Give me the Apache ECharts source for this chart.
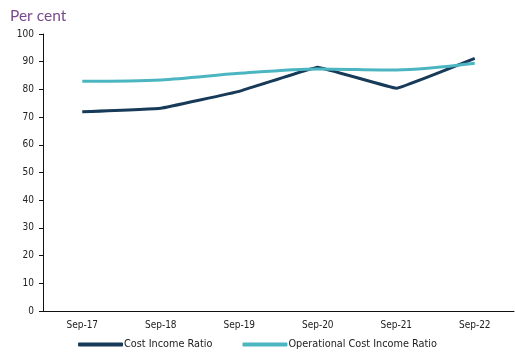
<!DOCTYPE html>
<html>
<head>
<meta charset="utf-8">
<script src="https://cdn.jsdelivr.net/npm/echarts@6/dist/echarts.min.js"></script>
<style>
  html, body { margin: 0; padding: 0; background: #ffffff; }
  #chart { width: 515px; height: 358px; }
</style>
</head>
<body>
<div id="chart"></div>
<script>
// Cost income ratios, per cent, September year-ends
var categories = ['Sep-17', 'Sep-18', 'Sep-19', 'Sep-20', 'Sep-21', 'Sep-22'];
var costIncomeRatio = [71.9, 73.2, 79.3, 88.0, 80.4, 91.2];
var operationalCostIncomeRatio = [82.9, 83.4, 85.8, 87.4, 87.0, 89.4];
var yTicks = [0, 10, 20, 30, 40, 50, 60, 70, 80, 90, 100];

var chart = echarts.init(document.getElementById('chart'), null, { renderer: 'canvas' });

var labelFont = { fontFamily: 'DejaVu Sans Condensed, DejaVu Sans, sans-serif', fontSize: 10, color: '#222' };

chart.setOption({
  animation: false,
  backgroundColor: '#ffffff',
  title: {
    text: 'Per cent',
    left: 5, top: 3,
    textStyle: { fontFamily: 'Lato, sans-serif', fontSize: 15.5, fontWeight: 'normal', color: '#7a4a8e' }
  },
  grid: { left: 43, right: 1, top: 34, bottom: 47, containLabel: false },
  legend: {
    bottom: 3,
    left: 'center',
    itemWidth: 45, itemHeight: 4,
    itemGap: 30,
    icon: 'roundRect',
    textStyle: Object.assign({}, labelFont, { fontSize: 10.8, padding: [0, 0, 0, -4] }),
    data: ['Cost Income Ratio', 'Operational Cost Income Ratio']
  },
  xAxis: {
    type: 'category',
    data: categories,
    boundaryGap: true,
    axisLine: { lineStyle: { color: '#111', width: 1 } },
    axisTick: { show: false },
    axisLabel: Object.assign({}, labelFont, { margin: 9 })
  },
  yAxis: {
    type: 'value',
    min: yTicks[0], max: yTicks[yTicks.length - 1], interval: 10,
    splitLine: { show: false },
    axisLine: { show: true, lineStyle: { color: '#111', width: 1 } },
    axisTick: { show: true, length: 4, lineStyle: { color: '#111' } },
    axisLabel: Object.assign({}, labelFont, { margin: 9 })
  },
  series: [
    {
      name: 'Cost Income Ratio',
      type: 'line',
      data: costIncomeRatio,
      symbol: 'none',
      smooth: 0.05,
      lineStyle: { color: '#163a58', width: 3, join: 'round' },
      itemStyle: { color: '#163a58' }
    },
    {
      name: 'Operational Cost Income Ratio',
      type: 'line',
      data: operationalCostIncomeRatio,
      symbol: 'none',
      smooth: 0.3,
      lineStyle: { color: '#4bb6c2', width: 3 },
      itemStyle: { color: '#4bb6c2' }
    }
  ]
});
</script>
</body>
</html>
